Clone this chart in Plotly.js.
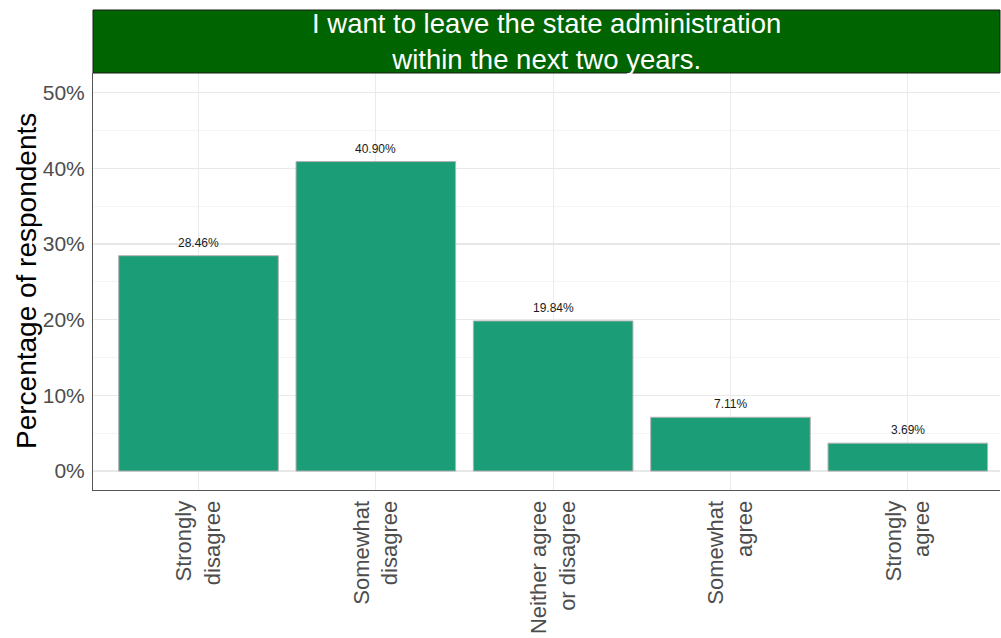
<!DOCTYPE html>
<html>
<head>
<meta charset="utf-8">
<script src="https://cdn.plot.ly/plotly-3.0.1.min.js"></script>
<style>html,body{margin:0;padding:0;background:#fff;}#chart{width:1001px;height:638px;}</style>
</head>
<body>
<div id="chart"></div>
<script>
var categories = ["Strongly<br>disagree", "Somewhat<br>disagree", "Neither agree<br>or disagree", "Somewhat<br>agree", "Strongly<br>agree"];
var values = [28.46, 40.90, 19.84, 7.11, 3.69];
var yTickVals = [0, 10, 20, 30, 40, 50];
var yTickText = ["0%", "10%", "20%", "30%", "40%", "50%"];
var chartTitle = "I want to leave the state administration<br>within the next two years.";
var yTitle = "Percentage of respondents";

var xPos = categories.map(function(c, i){ return i + 1; });

var trace = {
  type: 'bar',
  x: xPos,
  y: values,
  width: 0.9,
  marker: {color: '#1b9e77', line: {color: '#b3b3b3', width: 1}},
  hoverinfo: 'none'
};

var barLabels = values.map(function(v, i){
  return {
    xref: 'x', yref: 'y', x: xPos[i], y: v,
    xanchor: 'center', yanchor: 'bottom', yshift: 4,
    text: v.toFixed(2) + '%', showarrow: false,
    font: {size: 12, color: '#1a1a1a'}
  };
});

var layout = {
  width: 1001, height: 638,
  margin: {l: 93, r: 1, t: 73, b: 148},
  paper_bgcolor: '#ffffff', plot_bgcolor: '#ffffff',
  showlegend: false,
  font: {family: 'Liberation Sans, Arial, sans-serif'},
  xaxis: {
    range: [0.405, 5.52],
    tickmode: 'array', tickvals: xPos, ticktext: categories,
    tickangle: -90,
    tickfont: {size: 22, color: '#4d4d4d'},
    showgrid: true, gridcolor: '#ebebeb', gridwidth: 1,
    showline: true, linecolor: '#555555', linewidth: 1,
    ticks: '', zeroline: false, ticklabelstandoff: 1
  },
  yaxis: {
    range: [-2.5, 52.6],
    tickmode: 'array', tickvals: yTickVals, ticktext: yTickText,
    tickfont: {size: 21, color: '#4d4d4d'},
    showgrid: true, gridcolor: '#e8e8e8', gridwidth: 1.2,
    minor: {dtick: 5, tick0: 0, showgrid: true, gridcolor: '#f2f2f2', gridwidth: 0.8, ticks: ''},
    showline: true, linecolor: '#555555', linewidth: 1,
    ticks: '', zeroline: false, ticklabelstandoff: 3
  },
  shapes: [{
    type: 'rect', xref: 'paper', yref: 'paper',
    x0: 0, x1: 1, y0: 1, y1: 1 + 63/417,
    fillcolor: '#006400', line: {color: '#1a1a1a', width: 1}
  }],
  annotations: [{
    xref: 'paper', yref: 'paper', x: 0.5, y: 1 + 32/417,
    xanchor: 'center', yanchor: 'middle',
    text: chartTitle, showarrow: false,
    font: {size: 27.5, color: '#ffffff'}
  }, {
    xref: 'paper', yref: 'paper', x: -67/907, y: (490 - 281)/417,
    xanchor: 'center', yanchor: 'middle', textangle: -90,
    text: yTitle, showarrow: false,
    font: {size: 28, color: '#000000'}
  }].concat(barLabels)
};

Plotly.newPlot('chart', [trace], layout, {displayModeBar: false, staticPlot: true});
</script>
</body>
</html>
